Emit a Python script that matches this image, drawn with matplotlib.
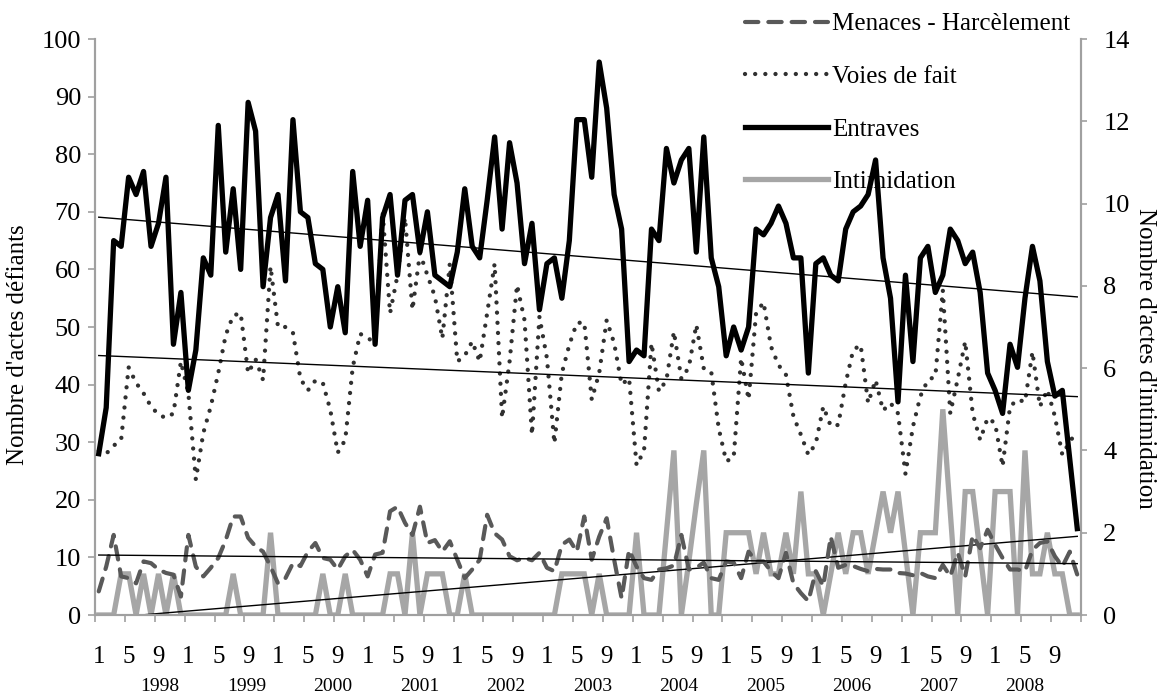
import numpy as np
import matplotlib
matplotlib.use("Agg")
import matplotlib.pyplot as plt

# ---------------- data (monthly, Jan 1998 - Dec 2008) ----------------
years = ["1998", "1999", "2000", "2001", "2002", "2003", "2004", "2005", "2006", "2007", "2008"]
month_labels = ["1", "5", "9"]

entraves = [
    28, 36, 65, 64, 76, 73, 77, 64, 68, 76, 47, 56,
    39, 46, 62, 59, 85, 63, 74, 60, 89, 84, 57, 69,
    73, 58, 86, 70, 69, 61, 60, 50, 57, 49, 77, 64,
    72, 47, 69, 73, 59, 72, 73, 63, 70, 59, 58, 57,
    63, 74, 64, 62, 72, 83, 67, 82, 75, 61, 68, 53,
    61, 62, 55, 65, 86, 86, 76, 96, 88, 73, 67, 44,
    46, 45, 67, 65, 81, 75, 79, 81, 63, 83, 62, 57,
    45, 50, 46, 50, 67, 66, 68, 71, 68, 62, 62, 42,
    61, 62, 59, 58, 67, 70, 71, 73, 79, 62, 55, 37,
    59, 44, 62, 64, 56, 59, 67, 65, 61, 63, 56, 42,
    39, 35, 47, 43, 55, 64, 58, 44, 38, 39, 27, 15,
]

voies_de_fait = [
    28.5, 28, 29.4, 30.4, 43, 40.3, 38.5, 36.2, 34.8, 34.2, 35, 44,
    38.5, 23.5, 31.6, 36.2, 42, 48.6, 52, 52.4, 42, 44.4, 40.8, 60.5,
    50, 50, 49, 41, 39, 40.7, 40.3, 35.6, 28.2, 30.4, 43, 48.8,
    48.2, 47, 70, 52.4, 59, 69, 53, 62.8, 59, 55.3, 48, 61,
    44, 45, 47.5, 44, 52.4, 61, 34.2, 44, 57.3, 51.2, 31.3, 51.8,
    44.6, 29.8, 42, 46.9, 50.7, 50.8, 37.4, 42, 51.2, 47.2, 40, 41.1,
    26, 28.5, 47.2, 38.8, 40.8, 49.2, 41, 43, 50.4, 42.8, 42.2, 32.4,
    26.7, 27.3, 44.6, 37.4, 52.4, 54.3, 46.6, 43.4, 41.7, 34.5, 31.3, 27.8,
    29.8, 36.2, 32.8, 33, 40.3, 46, 46.9, 36.8, 40.8, 35.5, 36.8, 35,
    24.5, 32.7, 38, 40.8, 41.4, 56.4, 35, 41, 47.5, 35, 30.4, 34.2,
    33.3, 25.8, 36.2, 37.4, 37, 45.7, 36.2, 39.1, 34.5, 27.8, 30.1, 31.9,
]

menaces = [
    4.1, 8.4, 13.9, 6.7, 6.4, 5.5, 9.3, 9, 7.9, 7.3, 7, 3.2,
    13.9, 8.4, 6.7, 8.2, 9.9, 13, 17.1, 17.1, 13.4, 11.9, 11, 8.4,
    5.5, 6.4, 9, 8.5, 11, 12.5, 9.9, 9.6, 7.9, 10.2, 11.3, 9.6,
    6.7, 10.5, 10.8, 18, 18.8, 16, 13.9, 18.8, 12.5, 13, 11, 12.8,
    9.6, 6.4, 7.9, 9.6, 17.4, 14.2, 13.1, 10.2, 9.5, 9.9, 9.5, 10.8,
    8.2, 7.6, 12.2, 13.1, 11, 17.1, 9.6, 13.6, 16.8, 9.6, 2.9, 11.3,
    8.4, 6.4, 6.1, 7.9, 8.1, 8.6, 13.9, 7.9, 8.2, 9.1, 6.4, 6.1,
    9.3, 9.1, 6.4, 11, 9.3, 9.3, 7.6, 6.4, 10.8, 5.5, 3.8, 2.4,
    7.6, 5, 13.6, 8.2, 8.7, 8.5, 8, 7.6, 8, 7.9, 7.9, 7.3,
    7.2, 6.9, 7.3, 6.7, 6.4, 8.7, 6.7, 10.8, 6.7, 13.8, 11.6, 14.8,
    12.2, 9.9, 7.9, 7.9, 7.6, 11.3, 12.5, 12.8, 10.2, 8.4, 11, 7,
]

intimidation = [
    0, 0, 0, 1, 1, 0, 1, 0, 1, 0, 1, 0,
    0, 0, 0, 0, 0, 0, 1, 0, 0, 0, 0, 2,
    0, 0, 0, 0, 0, 0, 1, 0, 0, 1, 0, 0,
    0, 0, 0, 1, 1, 0, 2, 0, 1, 1, 1, 0,
    0, 1, 0, 0, 0, 0, 0, 0, 0, 0, 0, 0,
    0, 0, 1, 1, 1, 1, 0, 1, 0, 0, 0, 0,
    2, 0, 0, 0, 2, 4, 0, 1.3, 2.7, 4, 0, 0,
    2, 2, 2, 2, 1, 2, 1, 1, 2, 1, 3, 1,
    1, 0, 1, 2, 1, 2, 2, 1, 2, 3, 2, 3,
    1.5, 0, 2, 2, 2, 5, 2.5, 0, 3, 3, 1.5, 0,
    3, 3, 3, 0, 4, 1, 1, 2, 1, 1, 0, 0,
]

# ---------------- figure ----------------
plt.rcParams['font.family'] = ['Liberation Serif', 'DejaVu Serif']
W, H = 1160, 694
fig = plt.figure(figsize=(W / 100, H / 100), dpi=100)
ax = fig.add_axes([95 / W, 1 - 615 / H, (1081 - 95) / W, (615 - 39) / H])
ax2 = ax.twinx()
ax.set_zorder(ax2.get_zorder() + 1)
ax.patch.set_visible(False)

n = len(entraves)
x = np.arange(n)

c_gray_axis = '#a0a0a0'

# intimidation (secondary axis)
l_int, = ax2.plot(x, intimidation, color='#a6a6a6', lw=3.8, solid_joinstyle='miter',
                  label='Intimidation')
p = np.polyfit(x, intimidation, 1)
ax2.plot(x, np.polyval(p, x), color='black', lw=1.0)

# primary series
l_men, = ax.plot(x, menaces, color='#595959', lw=3.0, linestyle=(0, (3.2, 2.4)),
                 dash_capstyle='round', label='Menaces - Harcèlement', zorder=3)
l_voi, = ax.plot(x, voies_de_fait, color='#303030', lw=3.1, linestyle=(0, (0.01, 2.35)),
                 dash_capstyle='round', label='Voies de fait', zorder=4)
l_ent, = ax.plot(x, entraves, color='black', lw=3.8, label='Entraves', zorder=5)

for series in (entraves, voies_de_fait, menaces):
    p = np.polyfit(x, series, 1)
    ax.plot(x, np.polyval(p, x), color='black', lw=1.0, zorder=6)

# axes limits / ticks
ax.set_xlim(-0.5, n - 0.5)
ax.set_ylim(0, 100)
ax2.set_ylim(0, 14)

ax.set_yticks(np.arange(0, 101, 10))
ax2.set_yticks(np.arange(0, 15, 2))
ax.tick_params(axis='y', direction='out', length=5, width=1.2, color=c_gray_axis,
               labelsize=19, pad=5)
ax2.tick_params(axis='y', direction='out', length=4, width=1.2, color=c_gray_axis,
                labelsize=19, pad=12)

ax.set_xticks(np.arange(-0.5, n, 4))
ax.set_xticklabels([])
ax.set_xticks(np.arange(0, n, 4), minor=True)
ax.set_xticklabels([month_labels[k % 3] for k in range(len(np.arange(0, n, 4)))], minor=True)
ax.tick_params(axis='x', which='major', direction='out', length=5, width=1.2, color=c_gray_axis)
ax.tick_params(axis='x', which='minor', length=0, labelsize=18, pad=22)

for a in (ax, ax2):
    a.spines['top'].set_visible(False)
    for s in ('left', 'right', 'bottom'):
        a.spines[s].set_color(c_gray_axis)
        a.spines[s].set_linewidth(1.5)

# year labels
for k, yr in enumerate(years):
    fig.text((160 + 86.5 * k) / W, 3 / H, yr, ha='center', va='baseline', fontsize=14)

# axis titles
fig.text(18 / W, 1 - 345 / H, "Nombre d'actes défiants", rotation=90,
         ha='center', va='center', fontsize=18)
fig.text(1145 / W, 1 - 358 / H, "Nombre d'actes d'intimidation", rotation=270,
         ha='center', va='center', fontsize=18)

# legend
leg = fig.legend(handles=[l_men, l_voi, l_ent, l_int], loc='upper left',
                 bbox_to_anchor=(745 / W, 1 - 13 / H), frameon=False, fontsize=18,
                 handlelength=3.3, handletextpad=0.2, labelspacing=1.2,
                 borderpad=0, borderaxespad=0)

fig.savefig('out.png', dpi=100)
